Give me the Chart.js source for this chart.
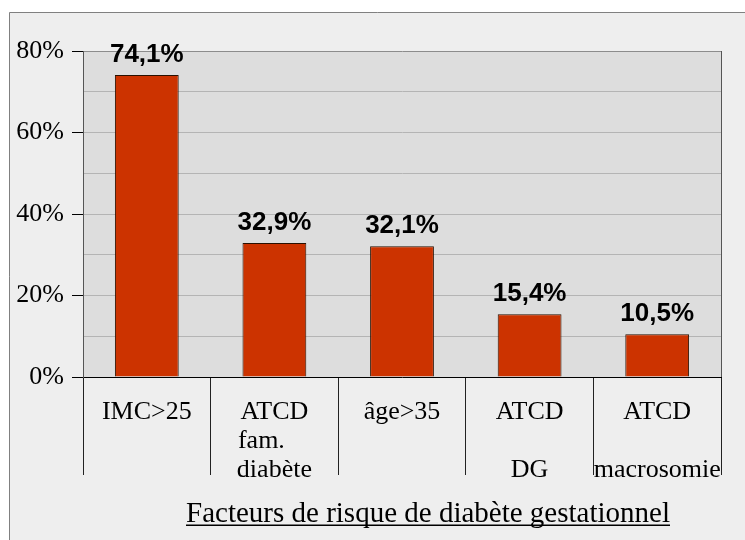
<!DOCTYPE html>
<html>
<head>
<meta charset="utf-8">
<script src="https://cdn.jsdelivr.net/npm/chart.js@4"></script>
<style>
body{margin:0;background:#fff}
</style>
</head>
<body>
<canvas id="myChart" width="745" height="540"></canvas>
<script>
const categories = [["IMC>25"], ["ATCD", "fam.    ", "diabète"], ["âge>35"], ["ATCD", "", "DG"], ["ATCD", "", "macrosomie"]];
const values = [74.1, 32.9, 32.1, 15.4, 10.5];
const yTicks = [0, 20, 40, 60, 80];
const xTitle = "Facteurs de risque de diabète gestationnel";

const serif = '"Liberation Serif", "Times New Roman", serif';
const sans = '"Liberation Sans", Arial, sans-serif';

// frame + grey plot background
const background = {
  id: 'background',
  beforeDraw(chart) {
    const c = chart.ctx, a = chart.chartArea;
    c.save();
    c.fillStyle = '#fff';
    c.fillRect(0, 0, chart.width, chart.height);
    c.fillStyle = '#eeeeee';
    c.fillRect(9, 12, chart.width - 9, chart.height - 12);
    c.strokeStyle = '#808080';
    c.lineWidth = 1;
    c.beginPath();
    c.moveTo(9.5, chart.height);
    c.lineTo(9.5, 12.5);
    c.lineTo(chart.width, 12.5);
    c.stroke();
    c.fillStyle = '#dddddd';
    c.fillRect(a.left, a.top, a.right - a.left, a.bottom - a.top);
    c.restore();
  }
};

// value labels over bars, right border, underlined title
const labels = {
  id: 'labels',
  afterDatasetsDraw(chart) {
    const c = chart.ctx, a = chart.chartArea;
    c.save();
    c.strokeStyle = '#555';
    c.beginPath();
    c.moveTo(Math.round(a.right) + 0.5, a.top);
    c.lineTo(Math.round(a.right) + 0.5, a.bottom);
    c.stroke();
    c.font = 'bold 26px ' + sans;
    c.fillStyle = '#000';
    c.textAlign = 'center';
    c.textBaseline = 'alphabetic';
    chart.getDatasetMeta(0).data.forEach((bar, i) => {
      c.fillText(values[i].toFixed(1).replace('.', ',') + '%', bar.x, bar.y - 13);
    });
    c.font = '29px ' + serif;
    const w = c.measureText(xTitle).width;
    const cx = 428;
    c.fillText(xTitle, cx, 522);
    c.fillRect(cx - w / 2, 524.5, w, 1.5);
    c.restore();
  }
};

const ctx = document.getElementById('myChart').getContext('2d');
new Chart(ctx, {
  type: 'bar',
  data: {
    labels: categories,
    datasets: [{
      data: values,
      backgroundColor: '#cc3300',
      borderColor: '#2a1000',
      borderWidth: 1,
      barPercentage: 0.5,
      categoryPercentage: 1
    }]
  },
  options: {
    responsive: false,
    animation: false,
    layout: { padding: { left: 0, top: 51, right: 24, bottom: 43 } },
    plugins: { legend: { display: false }, tooltip: { enabled: false } },
    scales: {
      x: {
        afterFit: s => { s.height = 120; },
        ticks: {
          padding: -77.5,
          color: '#000',
          maxRotation: 0,
          autoSkip: false,
          font: { family: serif, size: 26, lineHeight: 1.12 }
        },
        grid: { offset: true, drawOnChartArea: false, tickLength: 98, color: '#222', tickColor: '#222' },
        border: { color: '#000' }
      },
      y: {
        min: 0,
        max: 80,
        afterFit: s => { s.width = 83; },
        ticks: {
          stepSize: 10,
          padding: 8,
          color: '#000',
          font: { family: serif, size: 26 },
          callback: v => yTicks.includes(v) ? v + '%' : ''
        },
        grid: {
          tickLength: 11,
          color: c => c.tick && c.tick.value === 80 ? '#8c8c8c' : '#b4b4b4',
          tickColor: c => c.tick && yTicks.includes(c.tick.value) ? '#000' : 'rgba(0,0,0,0)'
        },
        border: { color: '#555' }
      }
    }
  },
  plugins: [background, labels]
});
</script>
</body>
</html>
